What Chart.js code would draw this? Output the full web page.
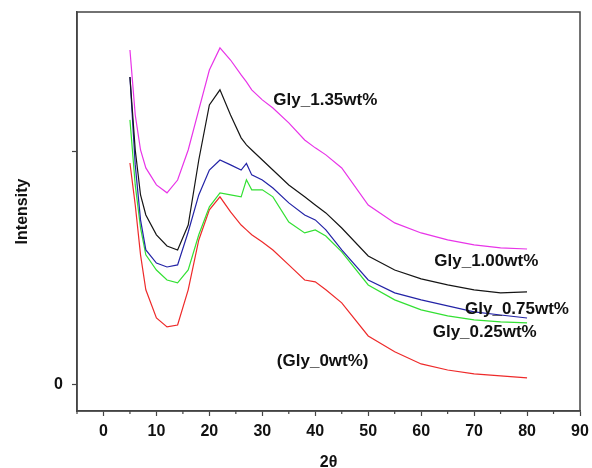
<!DOCTYPE html>
<html>
<head>
<meta charset="utf-8">
<script src="https://cdn.jsdelivr.net/npm/chart.js@4.4.1/dist/chart.umd.min.js"></script>
<style>
	html, body { margin: 0; padding: 0; background: #fff; }
	#wrap { width: 592px; height: 468px; }
</style>
</head>
<body>
<div id="wrap"><canvas id="chart-xrd"></canvas></div>
<script>
// 2 theta positions where the curves were read
const twoTheta = [5, 6, 7, 8, 10, 12, 14, 16, 18, 20, 22, 24, 26, 27, 28, 30, 32, 35, 38, 40, 42, 45, 50, 55, 60, 65, 70, 75, 80];

const gly135 = [1437, 1158, 1008, 931, 858, 824, 879, 1008, 1180, 1351, 1446, 1394, 1330, 1300, 1266, 1223, 1188, 1124, 1051, 1017, 987, 931, 772, 695, 652, 622, 601, 588, 583];
const gly100 = [1321, 1008, 815, 729, 644, 596, 579, 686, 965, 1201, 1266, 1158, 1060, 1030, 1008, 965, 922, 858, 807, 772, 738, 673, 553, 493, 455, 429, 408, 395, 399];
const gly075 = [1321, 944, 708, 579, 523, 506, 515, 656, 815, 922, 965, 944, 922, 950, 901, 879, 845, 781, 729, 708, 665, 579, 450, 395, 365, 339, 313, 300, 287];
const gly025 = [1137, 858, 674, 558, 493, 450, 438, 493, 644, 764, 824, 815, 807, 880, 837, 837, 807, 699, 652, 665, 639, 571, 429, 365, 322, 296, 279, 270, 266];
const gly000 = [952, 772, 558, 408, 287, 249, 257, 408, 622, 751, 807, 742, 686, 665, 644, 613, 579, 515, 450, 442, 408, 352, 210, 142, 90, 64, 47, 39, 30];

const seriesNames = ['Gly_1.35wt%', 'Gly_1.00wt%', 'Gly_0.75wt%', 'Gly_0.25wt%', '(Gly_0wt%)'];
const seriesColors = ['#e834e8', '#151515', '#2323a6', '#33e033', '#ee2a2a'];

const xTicks = [0, 10, 20, 30, 40, 50, 60, 70, 80, 90];
const xMinorTicks = [-5, 5, 15, 25, 35, 45, 55, 65, 75, 85];
const yTicks = [0, 1000];
const yTickLabels = ['0', ''];

// where each curve label sits, in data units
const labelSpots = [[41.9, 1220], [72.3, 532], [78.1, 326], [72, 227], [41.4, 103]];

const allSeries = [gly135, gly100, gly075, gly025, gly000];
const axisColor = '#444';
const tickFont = { family: 'Liberation Sans, Arial, sans-serif', size: 16, weight: 'bold' };
const titleFont = { family: 'Liberation Sans, Arial, sans-serif', size: 16, weight: 'bold' };

const boxAndLabels = {
	id: 'boxAndLabels',
	afterDraw(chart) {
		const ctx = chart.ctx;
		const area = chart.chartArea;
		const xs = chart.scales.x;
		const ys = chart.scales.y;
		ctx.save();
		ctx.strokeStyle = axisColor;
		ctx.lineWidth = 1.5;
		ctx.strokeRect(area.left, area.top, area.right - area.left, area.bottom - area.top);

		// minor ticks on the x axis
		ctx.lineWidth = 1.2;
		ctx.beginPath();
		xMinorTicks.forEach((v) => {
			const px = xs.getPixelForValue(v);
			ctx.moveTo(px, area.bottom);
			ctx.lineTo(px, area.bottom + 3);
		});
		ctx.stroke();

		ctx.fillStyle = '#111';
		ctx.font = 'bold 17px "Liberation Sans", Arial, sans-serif';
		ctx.textAlign = 'center';
		ctx.textBaseline = 'middle';
		seriesNames.forEach((name, i) => {
			ctx.fillText(name, xs.getPixelForValue(labelSpots[i][0]), ys.getPixelForValue(labelSpots[i][1]));
		});
		ctx.restore();
	}
};

const ctx = document.getElementById('chart-xrd');
const xrdChart = new Chart(ctx, {
	type: 'line',
	data: {
		labels: twoTheta,
		datasets: allSeries.map((vals, i) => ({
			label: seriesNames[i],
			data: twoTheta.map((t, j) => ({ x: t, y: vals[j] })),
			borderColor: seriesColors[i],
			borderWidth: 1.2,
			pointRadius: 0,
			tension: 0,
			fill: false
		}))
	},
	options: {
		responsive: true,
		maintainAspectRatio: false,
		animation: false,
		layout: { padding: { top: 12, right: 12, left: 0, bottom: 0 } },
		plugins: {
			legend: { display: false },
			tooltip: { enabled: false }
		},
		scales: {
			x: {
				type: 'linear',
				min: -5,
				max: 90,
				afterBuildTicks: (scale) => { scale.ticks = xTicks.map((v) => ({ value: v })); },
				afterFit: (scale) => {
					scale.height = 57;
					scale.paddingLeft = 0;
					scale.paddingRight = 0;
				},
				ticks: { color: '#111', font: tickFont, padding: 6, maxRotation: 0 },
				grid: { drawOnChartArea: false, tickLength: 5, tickColor: axisColor, tickWidth: 1.2 },
				border: { color: axisColor, width: 1.5 },
				title: { display: true, text: '2θ', color: '#111', font: titleFont, padding: { top: 0, bottom: -4 } }
			},
			y: {
				min: -112,
				max: 1600,
				afterBuildTicks: (scale) => { scale.ticks = yTicks.map((v) => ({ value: v })); },
				afterFit: (scale) => {
					scale.width = 77;
					scale.paddingTop = 0;
					scale.paddingBottom = 0;
				},
				ticks: {
					color: '#111',
					font: tickFont,
					padding: 9,
					callback: (value) => yTickLabels[yTicks.indexOf(value)]
				},
				grid: { drawOnChartArea: false, tickLength: 5, tickColor: axisColor, tickWidth: 1.2 },
				border: { color: axisColor, width: 1.5 },
				title: { display: true, text: 'Intensity', color: '#111', font: titleFont, padding: { top: 13, bottom: 0 } }
			}
		}
	},
	plugins: [boxAndLabels]
});
</script>
</body>
</html>
